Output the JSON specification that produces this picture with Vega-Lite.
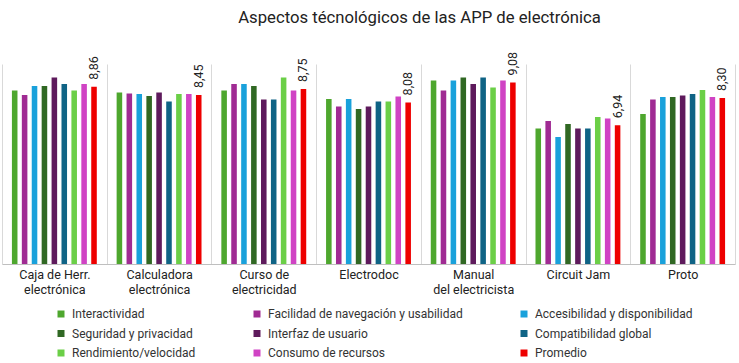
{
  "$schema": "https://vega.github.io/schema/vega-lite/v6.json",
  "width": 733,
  "height": 200,
  "autosize": {"type": "none"},
  "padding": {"left": 2, "top": 64, "right": 4, "bottom": 99},
  "title": {
    "text": "Aspectos técnológicos de las APP de electrónica",
    "font": "Roboto",
    "fontSize": 16.7,
    "fontWeight": "normal",
    "color": "#222222",
    "dx": 51,
    "offset": 25
  },
  "config": {
    "view": {"stroke": null},
    "font": "Roboto"
  },
  "data": {
    "values": [
      {"app": "Caja de Herr.|electrónica", "aspecto": "Interactividad", "valor": 8.67},
      {"app": "Caja de Herr.|electrónica", "aspecto": "Facilidad de navegación y usabilidad", "valor": 8.45},
      {"app": "Caja de Herr.|electrónica", "aspecto": "Accesibilidad y disponibilidad", "valor": 8.9},
      {"app": "Caja de Herr.|electrónica", "aspecto": "Seguridad y privacidad", "valor": 8.9},
      {"app": "Caja de Herr.|electrónica", "aspecto": "Interfaz de usuario", "valor": 9.33},
      {"app": "Caja de Herr.|electrónica", "aspecto": "Compatibilidad global", "valor": 9.0},
      {"app": "Caja de Herr.|electrónica", "aspecto": "Rendimiento/velocidad", "valor": 8.67},
      {"app": "Caja de Herr.|electrónica", "aspecto": "Consumo de recursos", "valor": 9.0},
      {"app": "Caja de Herr.|electrónica", "aspecto": "Promedio", "valor": 8.86, "etiqueta": "8,86"},
      {"app": "Calculadora|electrónica", "aspecto": "Interactividad", "valor": 8.57},
      {"app": "Calculadora|electrónica", "aspecto": "Facilidad de navegación y usabilidad", "valor": 8.53},
      {"app": "Calculadora|electrónica", "aspecto": "Accesibilidad y disponibilidad", "valor": 8.5},
      {"app": "Calculadora|electrónica", "aspecto": "Seguridad y privacidad", "valor": 8.4},
      {"app": "Calculadora|electrónica", "aspecto": "Interfaz de usuario", "valor": 8.57},
      {"app": "Calculadora|electrónica", "aspecto": "Compatibilidad global", "valor": 8.13},
      {"app": "Calculadora|electrónica", "aspecto": "Rendimiento/velocidad", "valor": 8.5},
      {"app": "Calculadora|electrónica", "aspecto": "Consumo de recursos", "valor": 8.5},
      {"app": "Calculadora|electrónica", "aspecto": "Promedio", "valor": 8.45, "etiqueta": "8,45"},
      {"app": "Curso de|electricidad", "aspecto": "Interactividad", "valor": 8.67},
      {"app": "Curso de|electricidad", "aspecto": "Facilidad de navegación y usabilidad", "valor": 9.0},
      {"app": "Curso de|electricidad", "aspecto": "Accesibilidad y disponibilidad", "valor": 9.0},
      {"app": "Curso de|electricidad", "aspecto": "Seguridad y privacidad", "valor": 8.9},
      {"app": "Curso de|electricidad", "aspecto": "Interfaz de usuario", "valor": 8.23},
      {"app": "Curso de|electricidad", "aspecto": "Compatibilidad global", "valor": 8.23},
      {"app": "Curso de|electricidad", "aspecto": "Rendimiento/velocidad", "valor": 9.33},
      {"app": "Curso de|electricidad", "aspecto": "Consumo de recursos", "valor": 8.67},
      {"app": "Curso de|electricidad", "aspecto": "Promedio", "valor": 8.75, "etiqueta": "8,75"},
      {"app": "Electrodoc", "aspecto": "Interactividad", "valor": 8.25},
      {"app": "Electrodoc", "aspecto": "Facilidad de navegación y usabilidad", "valor": 7.88},
      {"app": "Electrodoc", "aspecto": "Accesibilidad y disponibilidad", "valor": 8.25},
      {"app": "Electrodoc", "aspecto": "Seguridad y privacidad", "valor": 7.75},
      {"app": "Electrodoc", "aspecto": "Interfaz de usuario", "valor": 7.88},
      {"app": "Electrodoc", "aspecto": "Compatibilidad global", "valor": 8.13},
      {"app": "Electrodoc", "aspecto": "Rendimiento/velocidad", "valor": 8.13},
      {"app": "Electrodoc", "aspecto": "Consumo de recursos", "valor": 8.37},
      {"app": "Electrodoc", "aspecto": "Promedio", "valor": 8.08, "etiqueta": "8,08"},
      {"app": "Manual|del electricista", "aspecto": "Interactividad", "valor": 9.17},
      {"app": "Manual|del electricista", "aspecto": "Facilidad de navegación y usabilidad", "valor": 8.67},
      {"app": "Manual|del electricista", "aspecto": "Accesibilidad y disponibilidad", "valor": 9.17},
      {"app": "Manual|del electricista", "aspecto": "Seguridad y privacidad", "valor": 9.33},
      {"app": "Manual|del electricista", "aspecto": "Interfaz de usuario", "valor": 9.0},
      {"app": "Manual|del electricista", "aspecto": "Compatibilidad global", "valor": 9.33},
      {"app": "Manual|del electricista", "aspecto": "Rendimiento/velocidad", "valor": 8.83},
      {"app": "Manual|del electricista", "aspecto": "Consumo de recursos", "valor": 9.17},
      {"app": "Manual|del electricista", "aspecto": "Promedio", "valor": 9.08, "etiqueta": "9,08"},
      {"app": "Circuit Jam", "aspecto": "Interactividad", "valor": 6.78},
      {"app": "Circuit Jam", "aspecto": "Facilidad de navegación y usabilidad", "valor": 7.15},
      {"app": "Circuit Jam", "aspecto": "Accesibilidad y disponibilidad", "valor": 6.35},
      {"app": "Circuit Jam", "aspecto": "Seguridad y privacidad", "valor": 7.0},
      {"app": "Circuit Jam", "aspecto": "Interfaz de usuario", "valor": 6.78},
      {"app": "Circuit Jam", "aspecto": "Compatibilidad global", "valor": 6.78},
      {"app": "Circuit Jam", "aspecto": "Rendimiento/velocidad", "valor": 7.35},
      {"app": "Circuit Jam", "aspecto": "Consumo de recursos", "valor": 7.28},
      {"app": "Circuit Jam", "aspecto": "Promedio", "valor": 6.94, "etiqueta": "6,94"},
      {"app": "Proto", "aspecto": "Interactividad", "valor": 7.5},
      {"app": "Proto", "aspecto": "Facilidad de navegación y usabilidad", "valor": 8.23},
      {"app": "Proto", "aspecto": "Accesibilidad y disponibilidad", "valor": 8.35},
      {"app": "Proto", "aspecto": "Seguridad y privacidad", "valor": 8.35},
      {"app": "Proto", "aspecto": "Interfaz de usuario", "valor": 8.43},
      {"app": "Proto", "aspecto": "Compatibilidad global", "valor": 8.5},
      {"app": "Proto", "aspecto": "Rendimiento/velocidad", "valor": 8.7},
      {"app": "Proto", "aspecto": "Consumo de recursos", "valor": 8.35},
      {"app": "Proto", "aspecto": "Promedio", "valor": 8.3, "etiqueta": "8,30"}
    ]
  },
  "encoding": {
    "x": {
      "field": "app",
      "type": "nominal",
      "sort": null,
      "scale": {"paddingInner": 0, "paddingOuter": 0},
      "axis": {
        "title": null,
        "labelAngle": 0,
        "labelExpr": "split(datum.label, '|')",
        "labelFont": "Roboto",
        "labelFontSize": 12.5,
        "labelColor": "#222222",
        "labelLineHeight": 15,
        "labelPadding": 4,
        "ticks": false,
        "tickBand": "extent",
        "grid": true,
        "gridColor": "#d9d9d9",
        "gridWidth": 1,
        "domainColor": "#bfbfbf",
        "domainWidth": 1
      }
    },
    "xOffset": {
      "field": "aspecto",
      "type": "nominal",
      "sort": null,
      "scale": {"paddingInner": 0.44, "paddingOuter": 1.12}
    },
    "y": {
      "field": "valor",
      "type": "quantitative",
      "scale": {"domain": [0, 10], "nice": false},
      "axis": null
    }
  },
  "layer": [
    {
      "mark": {"type": "bar"},
      "encoding": {
        "color": {
          "field": "aspecto",
          "type": "nominal",
          "sort": null,
          "scale": {
            "domain": ["Interactividad", "Facilidad de navegación y usabilidad", "Accesibilidad y disponibilidad", "Seguridad y privacidad", "Interfaz de usuario", "Compatibilidad global", "Rendimiento/velocidad", "Consumo de recursos", "Promedio"],
            "range": ["#4EA72E", "#A02B93", "#19A1DB", "#306823", "#5E1A5C", "#0F6385", "#6BCF47", "#D043C4", "#EE0000"]
          },
          "legend": {
            "title": null,
            "orient": "none",
            "legendX": 53,
            "legendY": 244,
            "columns": 3,
            "direction": "horizontal",
            "symbolType": "square",
            "symbolSize": 49,
            "symbolStrokeWidth": 0,
            "labelFont": "Roboto",
            "labelFontSize": 12,
            "labelColor": "#333333",
            "labelOffset": 5,
            "labelLimit": 300,
            "rowPadding": 7.5,
            "columnPadding": 55
          }
        }
      }
    },
    {
      "transform": [{"filter": "datum.aspecto === 'Promedio'"}],
      "mark": {
        "type": "text",
        "angle": 270,
        "align": "left",
        "baseline": "middle",
        "dx": 7,
        "font": "Roboto",
        "fontSize": 12.5,
        "color": "#222222"
      },
      "encoding": {
        "text": {"field": "etiqueta", "type": "nominal"}
      }
    }
  ]
}
